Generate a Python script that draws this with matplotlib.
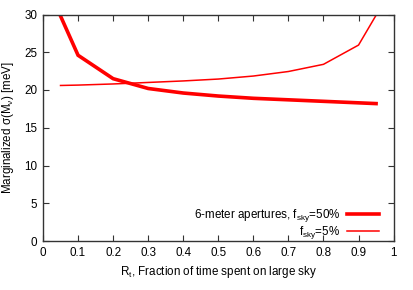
import matplotlib
matplotlib.use("Agg")
import matplotlib.pyplot as plt

plt.rcParams['font.family'] = ['Liberation Sans', 'DejaVu Sans']
plt.rcParams['mathtext.fontset'] = 'custom'
plt.rcParams['mathtext.rm'] = 'Liberation Sans'
plt.rcParams['mathtext.it'] = 'Liberation Sans'

rt = [0.05, 0.1, 0.2, 0.3, 0.4, 0.5, 0.6, 0.7, 0.8, 0.9, 0.95]
sigma_fsky50 = [29.8, 24.6, 21.5, 20.2, 19.6, 19.2, 18.9, 18.7, 18.5, 18.3, 18.2]
sigma_fsky5 = [20.6, 20.65, 20.8, 21.0, 21.2, 21.45, 21.85, 22.45, 23.4, 25.95, 29.9]
xticks = [0, 0.1, 0.2, 0.3, 0.4, 0.5, 0.6, 0.7, 0.8, 0.9, 1]
xticklabels = ['0', '0.1', '0.2', '0.3', '0.4', '0.5', '0.6', '0.7', '0.8', '0.9', '1']
yticks = [0, 5, 10, 15, 20, 25, 30]

fs = 8.4
fig = plt.figure(figsize=(4.14, 2.90), dpi=100)
ax = fig.add_axes([43/414, 1 - 241/290, 350.6/414, 226.5/290])
ax.plot(rt, sigma_fsky50, color='#ff0000', lw=2.6, label='6-meter apertures, f$_{\\rm sky}$=50%', solid_joinstyle='miter')
ax.plot(rt, sigma_fsky5, color='#ff0000', lw=1.1, label='f$_{\\rm sky}$=5%')
ax.set_xlim(0, 1)
ax.set_ylim(0, 30)
ax.set_xticks(xticks)
ax.set_xticklabels(xticklabels)
ax.set_yticks(yticks)
ax.tick_params(direction='in', top=True, right=True, length=4, width=0.8, labelsize=fs, colors='#333333', labelcolor='black', pad=4)
for s in ax.spines.values():
    s.set_linewidth(1.0)
    s.set_color('#333333')
ax.set_xlabel('R$_{\\rm t}$, Fraction of time spent on large sky', fontsize=fs, labelpad=4)
ax.set_ylabel('Marginalized σ(M$_{\\rm ν}$) [meV]', fontsize=fs, labelpad=6)
leg = ax.legend(loc='lower right', markerfirst=False, frameon=False, fontsize=fs,
                handlelength=2.7, handletextpad=0.6, labelspacing=0.0, borderpad=0, borderaxespad=0,
                bbox_to_anchor=(0.958, 0.0))
for t in leg.get_texts():
    t.set_ha('right')
vp = leg._legend_box.get_children()[1]
vp.align = 'right'
for c in vp.get_children():
    c.align = 'right'
fig.savefig('out.png', dpi=100)
